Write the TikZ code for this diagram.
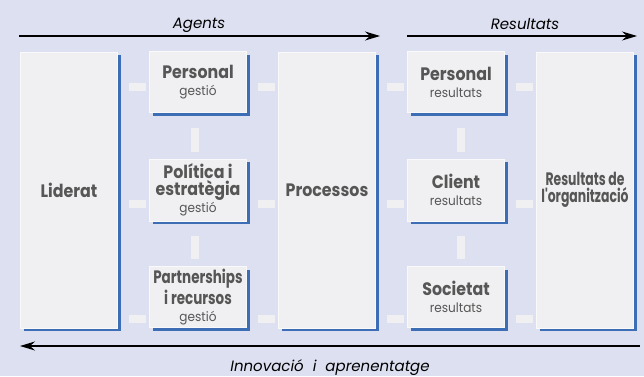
\documentclass[tikz,border=0pt]{standalone}
\usepackage{fontspec}
\usepackage{tikz}
\usetikzlibrary{arrows.meta,shadows}
\newfontfamily\headfont[FakeStretch=0.88]{Poppins}
\newfontfamily\tightfont[FakeStretch=0.75]{Poppins}
\newfontfamily\narrowfont[FakeStretch=0.69]{Poppins}
\newfontfamily\rolfont[FakeStretch=0.93]{Poppins}
\newfontfamily\capfont{Poppins}
\definecolor{bgcol}{RGB}{221,224,241}
\definecolor{boxcol}{RGB}{240,240,243}
\definecolor{edgecol}{RGB}{61,110,181}
\definecolor{txtcol}{RGB}{86,86,86}
\newcommand{\rol}[1]{{\rolfont\mdseries\fontsize{13}{17}\selectfont #1}}

\begin{document}
\begin{tikzpicture}[x=1pt,y=1pt,node distance=129pt,
                    >={Stealth[length=15pt,width=9pt,inset=5pt]}]
\tikzstyle{box}=[fill=boxcol,draw=white!60!boxcol,minimum width=97pt,
  minimum height=61pt,inner sep=0pt,align=center,text=txtcol,
  font=\headfont\bfseries\fontsize{18}{17}\selectfont,
  drop shadow={shadow xshift=3pt,shadow yshift=-3pt,fill=edgecol,opacity=1}]
\tikzstyle{tall}=[box,minimum height=276pt]
\tikzstyle{bar}=[line width=8pt,draw=boxcol,shorten <=11pt,shorten >=3pt]
\tikzstyle{vbar}=[line width=8pt,draw=boxcol,shorten <=15pt,shorten >=7pt]
\tikzstyle{flow}=[->,line width=1.3pt]
\tikzstyle{caption}=[anchor=base,inner sep=0pt,
  font=\capfont\itshape\fontsize{15}{17}\selectfont]

\fill[bgcol] (0,0) rectangle (644,376);

\coordinate (r1) at (0,289);
\coordinate (r2) at (0,172.5);
\coordinate (r3) at (0,57.5);

\node[tall] (lid) at (69,186) {Liderat};
\node[box,minimum height=62pt] (pe) [right of=lid] {Política i\\estratègia\\\rol{gestió}};
\node[box] (pg) [above of=pe,node distance=108pt] {Personal\\\rol{gestió}};
\node[box,font=\tightfont\bfseries\fontsize{18}{17}\selectfont] (pr)
  [below of=pe,node distance=107pt] {Partnerships\\i recursos\\\rol{gestió}};
\node[tall] (proc) [right of=pe] {Processos};
\node[box,minimum height=62pt] (rc) [right of=proc] {Client\\\rol{resultats}};
\node[box] (rp) [above of=rc,node distance=108pt] {Personal\\\rol{resultats}};
\node[box] (rs) [below of=rc,node distance=107pt] {Societat\\\rol{resultats}};
\node[tall,font=\narrowfont\bfseries\fontsize{18}{17.5}\selectfont] (ro)
  [right of=rc] {Resultats de\\l'organització};

\foreach \r/\a/\b in {r1/pg/rp,r2/pe/rc,r3/pr/rs} {
  \draw[bar] (lid.east |- \r) -- (\a.west |- \r);
  \draw[bar] (\a.east |- \r) -- (proc.west |- \r);
  \draw[bar] (proc.east |- \r) -- (\b.west |- \r);
  \draw[bar] (\b.east |- \r) -- (ro.west |- \r);
}
\draw[vbar] ([xshift=-3.5pt]pg.south) -- ([xshift=-3.5pt]pe.north);
\draw[vbar] ([xshift=-3.5pt]pe.south) -- ([xshift=-3.5pt]pr.north);
\draw[vbar] ([xshift=4.5pt]rp.south) -- ([xshift=4.5pt]rc.north);
\draw[vbar] ([xshift=4.5pt]rc.south) -- ([xshift=4.5pt]rs.north);

\coordinate (ag0) at (19,340);
\coordinate (ag1) at (380,340);
\coordinate (re0) at (407,340);
\coordinate (re1) at (637,340);
\coordinate (in0) at (640,30);
\coordinate (in1) at (20,30);
\draw[flow] (ag0) -- (ag1);
\draw[flow] (re0) -- (re1);
\draw[flow] (in0) -- (in1);
\node[caption] (agents) at (199,348) {Agents};
\node[caption] (resultats) at (525,347) {Resultats};
\node[caption] (innov) at (330,5) {Innovació\hspace{9pt}i\hspace{9pt}aprenentatge};
\end{tikzpicture}
\end{document}
